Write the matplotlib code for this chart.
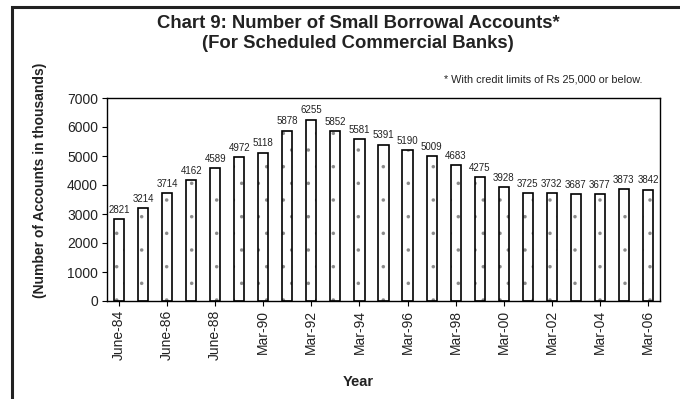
import matplotlib
matplotlib.use("Agg")
import matplotlib.pyplot as plt
from matplotlib.patches import Rectangle

plt.rcParams['font.family'] = ['Liberation Sans', 'DejaVu Sans']
plt.rcParams['hatch.linewidth'] = 0.1

categories = ["June-84", "June-85", "June-86", "June-87", "June-88", "June-89",
              "Mar-90", "Mar-91", "Mar-92", "Mar-93", "Mar-94", "Mar-95",
              "Mar-96", "Mar-97", "Mar-98", "Mar-99", "Mar-00", "Mar-01",
              "Mar-02", "Mar-03", "Mar-04", "Mar-05", "Mar-06"]
values = [2821, 3214, 3714, 4162, 4589, 4972, 5118, 5878, 6255, 5852, 5581, 5391,
          5190, 5009, 4683, 4275, 3928, 3725, 3732, 3687, 3677, 3873, 3842]
yticks = [0, 1000, 2000, 3000, 4000, 5000, 6000, 7000]

W, H = 680, 399
fig = plt.figure(figsize=(W / 100, H / 100), dpi=100)
ax = fig.add_axes([107 / W, 1 - 301 / H, (660 - 107) / W, (301 - 98) / H])

x = list(range(len(values)))
# dotted fill (grey hatch), then black outlines on top
ax.bar(x, values, width=0.42, color='white', edgecolor='#8a8a8a',
       linewidth=0, hatch='.')
ax.bar(x, values, width=0.42, fill=False, edgecolor='black', linewidth=1.2)
for xi, v in zip(x, values):
    ax.annotate(str(v), (xi, v), xytext=(0, 3), textcoords='offset points',
                ha='center', va='bottom', fontsize=7, color='#222222')

ax.set_xlim(-0.5, len(values) - 0.5)
ax.set_ylim(0, 7000)
ax.set_yticks(yticks)
ax.set_yticklabels([str(t) for t in yticks], fontsize=10, color='#222222')
ax.set_xticks(x[::2])
ax.set_xticklabels(categories[::2], rotation=90, fontsize=10, color='#222222')
ax.tick_params(axis='both', direction='out', length=3.5, width=0.8, pad=3)
for s in ax.spines.values():
    s.set_linewidth(1.0)

ax.set_ylabel("(Number of Accounts in thousands)", fontsize=10, fontweight='bold',
              color='#222222')
ax.yaxis.set_label_coords(-0.108, 0.596)
fig.text(358 / W, 1 - 382 / H, "Year", ha='center', va='center', fontsize=10.5,
         fontweight='bold', color='#222222')

fig.text(358 / W, 1 - 23 / H, "Chart 9: Number of Small Borrowal Accounts*",
         ha='center', va='center', fontsize=13.3, fontweight='bold', color='#222222')
fig.text(358 / W, 1 - 44 / H, "(For Scheduled Commercial Banks)",
         ha='center', va='center', fontsize=13.3, fontweight='bold', color='#222222')
fig.text(643 / W, 1 - 80 / H, "* With credit limits of Rs 25,000 or below.",
         ha='right', va='center', fontsize=7.8, color='#222222')

fig.patches.append(Rectangle((12 / W, -0.05), 1.0, 1 - 6.5 / H + 0.05,
                             transform=fig.transFigure, fill=False,
                             edgecolor='#222222', linewidth=2.2))

fig.savefig("out.png", dpi=100)
